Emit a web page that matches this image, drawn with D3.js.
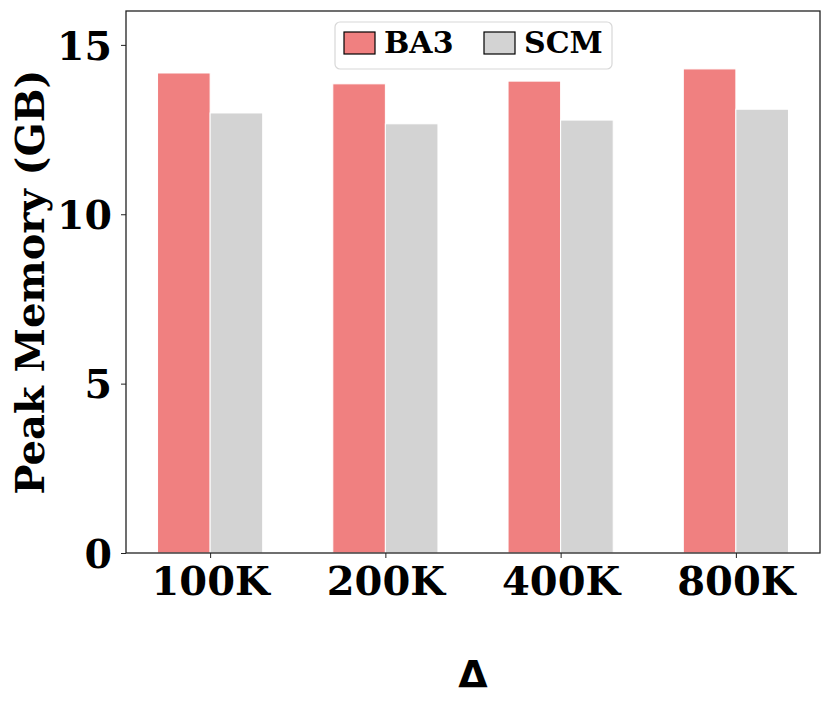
<!DOCTYPE html>
<html>
<head>
<meta charset="utf-8">
<script src="https://cdn.jsdelivr.net/npm/d3@7"></script>
<style>
  body { margin: 0; background: #fff; }
  svg text { font-family: "DejaVu Serif", serif; font-weight: bold; fill: #000; }
</style>
</head>
<body>
<script>
const categories = ['100K', '200K', '400K', '800K']
const ba3 = [14.17, 13.85, 13.93, 14.29]
const scm = [12.99, 12.67, 12.78, 13.10]
const yTicks = [0, 5, 10, 15]
const seriesNames = ['BA3', 'SCM']
const colors = ['#F08080', '#D3D3D3']

const width = 833
const height = 709
const frame = { left: 126, right: 820, top: 11, bottom: 553 }
const barW = 0.3

const svg = d3.select('body').append('svg')
  .attr('width', width)
  .attr('height', height)

const x = d3.scaleLinear()
  .domain([-0.48, categories.length - 1 + 0.48])
  .range([frame.left, frame.right])

const y = d3.scaleLinear()
  .domain([0, 16])
  .range([frame.bottom, frame.top])

// bars
const series = [ba3, scm]
series.forEach((vals, s) => {
  svg.append('g').selectAll('rect')
    .data(vals)
    .join('rect')
    .attr('x', (d, i) => x(i + (s - 1) * barW))
    .attr('width', x(barW) - x(0))
    .attr('y', d => y(d))
    .attr('height', d => y(0) - y(d))
    .attr('fill', colors[s])
    .attr('stroke', '#fff')
    .attr('stroke-width', 1)
})

// axes
const xAxis = svg.append('g')
  .attr('transform', `translate(0,${frame.bottom})`)
  .call(d3.axisBottom(x).tickValues(d3.range(categories.length))
    .tickFormat(i => categories[i]).tickSizeOuter(0).tickSize(5).tickPadding(8))
xAxis.select('.domain').remove()
xAxis.selectAll('text').attr('font-size', 40).attr('dy', '0.72em')

const yAxis = svg.append('g')
  .attr('transform', `translate(${frame.left},0)`)
  .call(d3.axisLeft(y).tickValues(yTicks).tickSizeOuter(0).tickSize(5).tickPadding(9))
yAxis.select('.domain').remove()
yAxis.selectAll('text').attr('font-size', 39.5).attr('dy', '0.36em')

svg.selectAll('.tick line').attr('stroke', '#222').attr('stroke-width', 1)

svg.append('rect')
  .attr('x', frame.left).attr('y', frame.top)
  .attr('width', frame.right - frame.left)
  .attr('height', frame.bottom - frame.top)
  .attr('fill', 'none')
  .attr('stroke', '#222')
  .attr('stroke-width', 1.3)

// axis labels
svg.append('text')
  .attr('transform', `translate(44,282) rotate(-90)`)
  .attr('text-anchor', 'middle')
  .attr('font-size', 40)
  .text('Peak Memory (GB)')

svg.append('text')
  .attr('x', 473).attr('y', 687)
  .attr('text-anchor', 'middle')
  .attr('font-size', 38)
  .style('font-family', '"DejaVu Sans", sans-serif')
  .text('Δ')

// legend
const legend = svg.append('g')
legend.append('rect')
  .attr('x', 335).attr('y', 22).attr('width', 277).attr('height', 47)
  .attr('rx', 5)
  .attr('fill', '#fff').attr('fill-opacity', 0.8)
  .attr('stroke', '#d8d8d8').attr('stroke-width', 1.2)

const items = legend.selectAll('g.item')
  .data(seriesNames)
  .join('g')
  .attr('class', 'item')
  .attr('transform', (d, i) => `translate(${344 + i * 140},32)`)
items.append('rect')
  .attr('width', 31).attr('height', 22)
  .attr('fill', (d, i) => colors[i])
  .attr('stroke', '#000').attr('stroke-width', 1.2)
items.append('text')
  .attr('x', 40).attr('y', 21)
  .attr('font-size', 30)
  .text(d => d)
</script>
</body>
</html>
